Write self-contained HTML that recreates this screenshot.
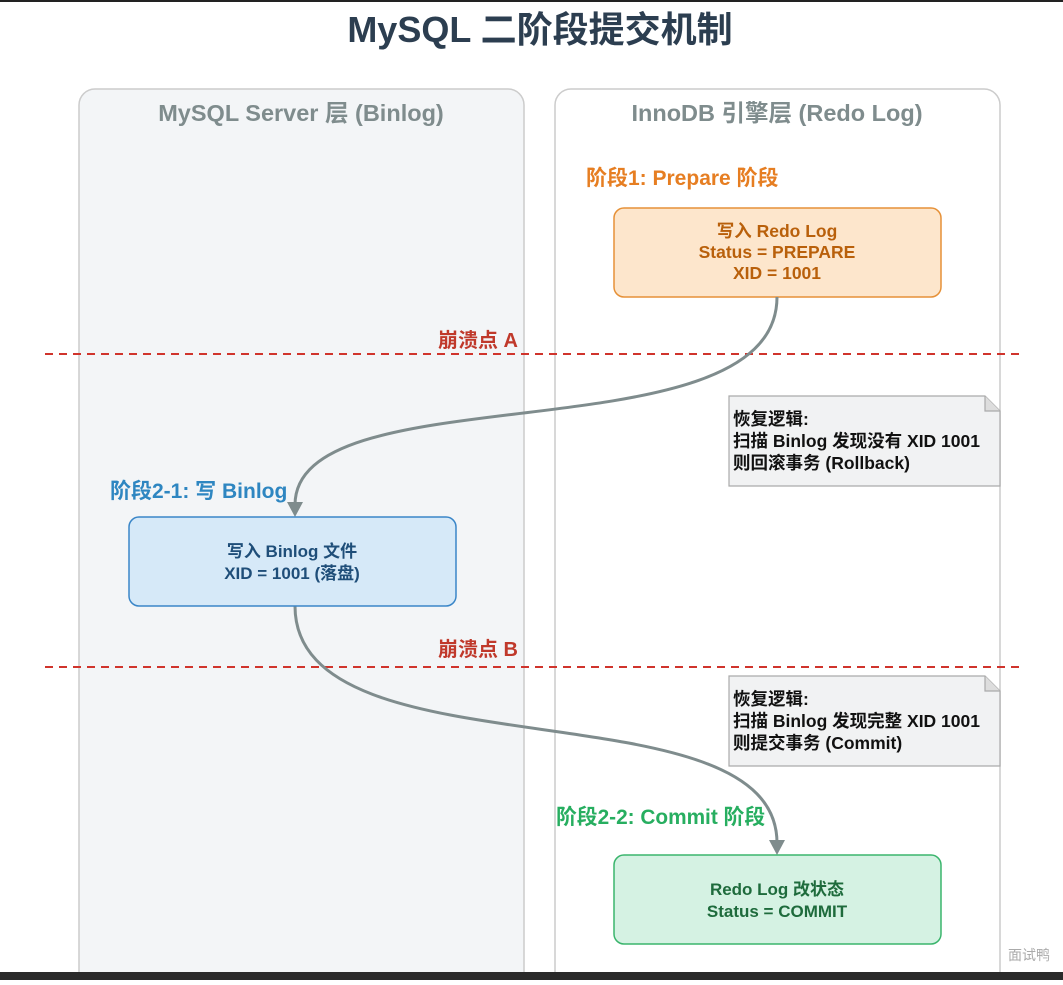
<!DOCTYPE html>
<html><head><meta charset="utf-8"><style>
html,body{margin:0;padding:0;background:#fff}
body{width:1063px;height:980px;overflow:hidden}
text{font-family:"Liberation Sans","Noto Sans CJK SC",sans-serif;font-weight:bold}
</style></head><body>
<svg width="1063" height="980" viewBox="0 0 1063 980" xmlns="http://www.w3.org/2000/svg">
<rect x="0" y="0" width="1063" height="980" fill="#fff"/>
<text x="540" y="42" font-size="36" fill="#2c3e50" text-anchor="middle">MySQL 二阶段提交机制</text>
<rect x="79" y="89" width="445" height="900" rx="16" fill="#f3f5f7" stroke="#ccc" stroke-width="1.5"/>
<rect x="555" y="89" width="445" height="900" rx="16" fill="#fff" stroke="#ccc" stroke-width="1.5"/>
<text x="301" y="121" font-size="23.5" fill="#7f8c8d" text-anchor="middle">MySQL Server 层 (Binlog)</text>
<text x="777" y="121" font-size="23.5" fill="#7f8c8d" text-anchor="middle">InnoDB 引擎层 (Redo Log)</text>

<text x="586" y="185" font-size="21" fill="#e67e22">阶段1: Prepare 阶段</text>
<rect x="614" y="208" width="327" height="89" rx="10" fill="#fde6cc" stroke="#e69138" stroke-width="1.5"/>
<text x="777" y="237" font-size="17.5" fill="#b9600b" text-anchor="middle">写入 Redo Log</text>
<text x="777" y="258" font-size="17.5" fill="#b9600b" text-anchor="middle">Status = PREPARE</text>
<text x="777" y="279" font-size="17.5" fill="#b9600b" text-anchor="middle">XID = 1001</text>

<line x1="45" y1="354" x2="1020" y2="354" stroke="#d0342c" stroke-width="2" stroke-dasharray="8,6"/>
<text x="478" y="347" font-size="20" fill="#c0392b" text-anchor="middle">崩溃点 A</text>
<line x1="45" y1="667" x2="1020" y2="667" stroke="#d0342c" stroke-width="2" stroke-dasharray="8,6"/>
<text x="478" y="656" font-size="20" fill="#c0392b" text-anchor="middle">崩溃点 B</text>

<path d="M777 297 C777 460, 295 370, 295 505" fill="none" stroke="#7f8c8d" stroke-width="3"/>
<polygon points="287,502 303,502 295,517" fill="#7f8c8d"/>
<path d="M295 606 C295 780, 777 680, 777 843" fill="none" stroke="#7f8c8d" stroke-width="3"/>
<polygon points="769,840 785,840 777,855" fill="#7f8c8d"/>

<path d="M729 396 H985 L1000 411 V486 H729 Z" fill="#f1f2f3" stroke="#aaa" stroke-width="1.2"/>
<path d="M985 396 V411 H1000" fill="#ddd" stroke="#aaa" stroke-width="1.2"/>
<text x="733" y="425" font-size="17.5" fill="#111">恢复逻辑:</text>
<text x="733" y="447" font-size="17.5" fill="#111">扫描 Binlog 发现没有 XID 1001</text>
<text x="733" y="469" font-size="17.5" fill="#111">则回滚事务 (Rollback)</text>

<path d="M729 676 H985 L1000 691 V766 H729 Z" fill="#f1f2f3" stroke="#aaa" stroke-width="1.2"/>
<path d="M985 676 V691 H1000" fill="#ddd" stroke="#aaa" stroke-width="1.2"/>
<text x="733" y="705" font-size="17.5" fill="#111">恢复逻辑:</text>
<text x="733" y="727" font-size="17.5" fill="#111">扫描 Binlog 发现完整 XID 1001</text>
<text x="733" y="749" font-size="17.5" fill="#111">则提交事务 (Commit)</text>

<text x="110" y="498" font-size="21" fill="#2e86c1">阶段2-1: 写 Binlog</text>
<rect x="129" y="517" width="327" height="89" rx="10" fill="#d6e9f8" stroke="#3a86c8" stroke-width="1.5"/>
<text x="292" y="557" font-size="17" fill="#1f4e79" text-anchor="middle">写入 Binlog 文件</text>
<text x="292" y="579" font-size="17" fill="#1f4e79" text-anchor="middle">XID = 1001 (落盘)</text>

<text x="556" y="824" font-size="20.8" fill="#27ae60">阶段2-2: Commit 阶段</text>
<rect x="614" y="855" width="327" height="89" rx="10" fill="#d5f2e3" stroke="#3bb56d" stroke-width="1.5"/>
<text x="777" y="895" font-size="17" fill="#1e6b3c" text-anchor="middle">Redo Log 改状态</text>
<text x="777" y="917" font-size="17" fill="#1e6b3c" text-anchor="middle">Status = COMMIT</text>

<text x="1008" y="960" font-size="14" fill="#aaa" style="font-weight:normal">面试鸭</text>
<rect x="0" y="0" width="1063" height="2" fill="#222"/>
<rect x="0" y="972" width="1063" height="8" fill="#2a2a2a"/>
</svg>
</body></html>
